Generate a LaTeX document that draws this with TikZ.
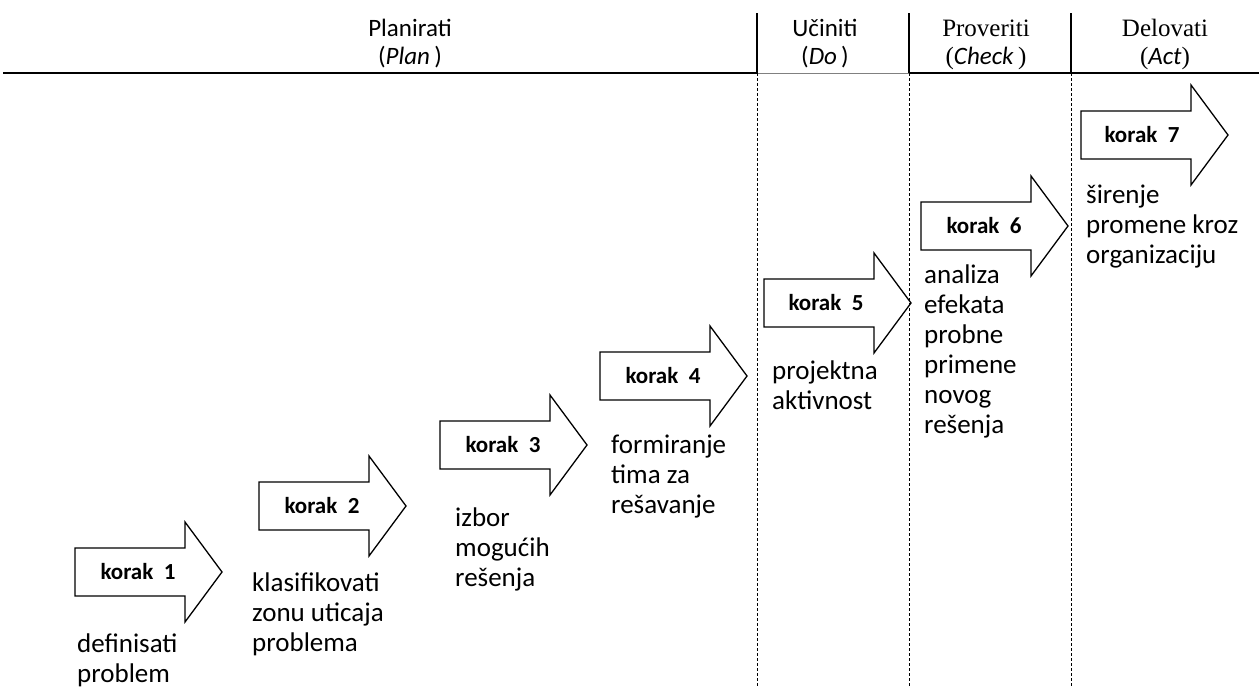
\documentclass[tikz,border=0pt]{standalone}
\usepackage{fontspec}
\setmainfont{Carlito}
\newfontfamily\serifslova{Liberation Serif}

\begin{document}
\begin{tikzpicture}[x=1pt,y=-1pt,
	strelica/.style={draw=black, line width=1.3pt, line join=miter},
	korak/.style={font=\bfseries\fontsize{23}{27}\selectfont, inner sep=0pt},
	opis/.style={font=\fontsize{27}{30}\selectfont, align=left, anchor=base west, inner sep=0pt},
	naslov/.style={font=\fontsize{25}{28}\selectfont, align=center, anchor=base, inner sep=0pt},
	granica/.style={line width=1.8pt},
	isprekidano/.style={line width=0.9pt, dash pattern=on 3pt off 2pt}]
			% Okvir slike
			\useasboundingbox (0,0) rectangle (1259,688);
			
			% Zaglavlje: faze (sidro = osnovna linija drugog reda)
			\node[naslov] (plan) at (410,64) {Planirati\\(\textit{Plan}\,)};
			\node[naslov] (do) at (825,64) {Učiniti\\(\textit{Do}\,)};
			\node[naslov] (check) at (986,64) {{\serifslova Proveriti}\\{\serifslova(}\textit{Check}\,{\serifslova)}};
			\node[naslov] (act) at (1165,64) {{\serifslova Delovati}\\{\serifslova(}\textit{Act}{\serifslova)}};
			
			% Horizontalna linija
			\draw[line width=2pt] (3,73) -- (757,73);
			\draw[gray, line width=1pt] (757,73) -- (909,73);
			\draw[line width=2pt] (909,73) -- (1259,73);
			
			% Granice faza
			\draw[granica] (757,13) -- (757,73);
			\draw[granica] (909,13) -- (909,73);
			\draw[granica] (1071,13) -- (1071,73);
			\draw[isprekidano] (757,73) -- (757,688);
			\draw[isprekidano] (909,73) -- (909,688);
			\draw[isprekidano] (1071,73) -- (1071,688);
			
			% Koraci (strelice)
			\draw[strelica] (75,572) -- ++(0,-24) -- ++(110,0) -- ++(0,-26) -- ++(37,50) -- ++(-37,50) -- ++(0,-26) -- ++(-110,0) -- cycle;
			\draw[strelica] (259,506) -- ++(0,-24) -- ++(110,0) -- ++(0,-26) -- ++(37,50) -- ++(-37,50) -- ++(0,-26) -- ++(-110,0) -- cycle;
			\draw[strelica] (440,445) -- ++(0,-24) -- ++(110,0) -- ++(0,-26) -- ++(37,50) -- ++(-37,50) -- ++(0,-26) -- ++(-110,0) -- cycle;
			\draw[strelica] (600,376) -- ++(0,-24) -- ++(110,0) -- ++(0,-26) -- ++(37,50) -- ++(-37,50) -- ++(0,-26) -- ++(-110,0) -- cycle;
			\draw[strelica] (764,303) -- ++(0,-24) -- ++(110,0) -- ++(0,-26) -- ++(37,50) -- ++(-37,50) -- ++(0,-26) -- ++(-110,0) -- cycle;
			\draw[strelica] (921,226) -- ++(0,-24) -- ++(110,0) -- ++(0,-26) -- ++(37,50) -- ++(-37,50) -- ++(0,-26) -- ++(-110,0) -- cycle;
			\draw[strelica] (1081,135) -- ++(0,-24) -- ++(110,0) -- ++(0,-26) -- ++(37,50) -- ++(-37,50) -- ++(0,-26) -- ++(-110,0) -- cycle;
			
			% Natpisi u strelicama
			\node[korak] (k1) at (138,572) {korak~~1};
			\node[korak] (k2) at (322,506) {korak~~2};
			\node[korak] (k3) at (503,445) {korak~~3};
			\node[korak] (k4) at (663,376) {korak~~4};
			\node[korak] (k5) at (826,303) {korak~~5};
			\node[korak] (k6) at (984,226) {korak~~6};
			\node[korak] (k7) at (1142,135) {korak~~7};
			
			% Opisi koraka (sidro = osnovna linija poslednjeg reda)
			\node[opis] (o1) at (77,682) {definisati\\problem};
			\node[opis] (o2) at (252,651) {klasifikovati\\zonu uticaja\\problema};
			\node[opis] (o3) at (455,586) {izbor\\mogućih\\rešenja};
			\node[opis] (o4) at (611,513) {formiranje\\tima za\\rešavanje};
			\node[opis] (o5) at (772,409) {projektna\\aktivnost};
			\node[opis] (o6) at (924,433) {analiza\\efekata\\probne\\primene\\novog\\rešenja};
			\node[opis] (o7) at (1086,263) {širenje\\promene kroz\\organizaciju};
			
		\end{tikzpicture}
\end{document}
